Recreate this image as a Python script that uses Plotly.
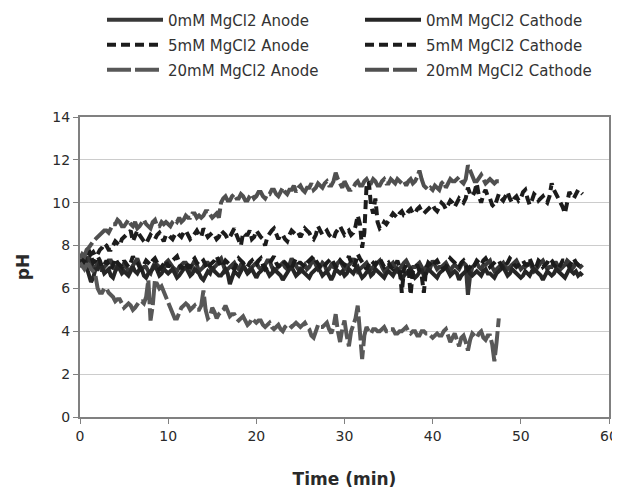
import plotly.graph_objects as go

# pH readings, one every quarter minute
SAMPLE_STEP_MIN = 0.25

ph_0mM_anode = [
    7.3, 7.1, 7.0, 7.2, 7.5, 7.2, 6.9, 7.0, 7.2, 7.1, 6.8, 7.0, 7.1, 7.3, 7.3, 7.0, 6.9, 7.1, 7.0, 6.8,
    7.2, 7.0, 6.8, 6.9, 7.1, 7.2, 7.4, 7.1, 6.9, 7.0, 7.0, 6.8, 6.7, 7.0, 7.2, 7.1, 7.0, 6.9, 6.9, 7.2,
    7.3, 7.1, 7.0, 6.9, 6.8, 7.0, 7.1, 7.2, 7.2, 7.0, 6.9, 7.1, 7.3, 7.1, 6.8, 6.9, 7.0, 7.2, 7.2, 7.0,
    6.9, 7.0, 7.1, 7.3, 7.4, 7.1, 6.8, 6.9, 7.0, 7.1, 7.2, 7.0, 6.9, 7.1, 7.1, 6.9, 6.7, 6.9, 7.0, 7.1,
    7.2, 7.0, 6.9, 7.0, 7.1, 7.3, 7.3, 7.0, 6.8, 6.9, 7.0, 7.1, 7.2, 7.0, 6.9, 7.1, 7.4, 7.2, 7.0, 6.9,
    6.8, 7.0, 7.1, 6.9, 7.0, 7.2, 7.3, 7.1, 6.9, 7.0, 7.2, 7.1, 6.8, 6.9, 7.1, 7.0, 7.0, 7.2, 7.3, 7.1,
    6.9, 7.0, 7.1, 7.2, 7.4, 7.1, 6.8, 6.9, 7.0, 7.1, 7.2, 7.0, 6.9, 7.0, 7.1, 7.2, 7.3, 7.0, 6.8, 6.9,
    7.0, 7.1, 7.2, 7.0, 6.8, 6.9, 7.1, 7.2, 7.3, 7.1, 6.9, 7.0, 7.0, 7.1, 7.2, 7.0, 6.8, 7.0, 7.1, 7.0,
    7.3, 7.1, 6.9, 7.0, 7.0, 7.1, 7.2, 7.0, 6.8, 7.0, 7.1, 7.0, 6.9, 7.1, 7.2, 7.1, 5.7, 6.6, 7.0, 7.1,
    7.2, 7.0, 6.9, 7.1, 7.1, 7.2, 7.3, 7.0, 6.8, 6.9, 7.0, 7.1, 7.2, 7.0, 6.9, 7.0, 7.1, 7.2, 7.3, 7.1,
    6.9, 7.0, 7.0, 7.1, 7.2, 7.0, 6.8, 6.9, 7.1, 7.2, 7.3, 7.1, 6.9, 7.0, 7.0, 7.2, 7.2, 7.0, 6.9, 7.0,
    7.1, 7.3, 7.2, 6.9, 7.0, 7.2, 7.1, 7.0, 7.1,
]

ph_0mM_cathode = [
    7.1, 7.4, 7.6, 7.0, 6.6, 6.3, 6.5, 6.9, 6.9, 7.2, 7.0, 6.7, 6.8, 6.9, 6.6, 6.5, 6.8, 7.0, 6.9, 6.7,
    6.8, 6.7, 6.6, 6.8, 7.0, 6.8, 6.7, 6.9, 6.9, 6.6, 6.5, 6.7, 6.8, 6.9, 7.1, 6.8, 6.6, 6.7, 6.9, 6.8,
    6.7, 6.8, 6.9, 6.7, 6.5, 6.6, 6.8, 6.9, 7.0, 6.8, 6.6, 6.7, 6.9, 6.8, 6.7, 6.5, 6.4, 6.6, 6.8, 6.7,
    7.0, 6.8, 6.7, 6.6, 6.6, 6.8, 6.9, 6.7, 6.2, 6.5, 6.8, 6.7, 6.6, 6.8, 7.0, 6.9, 6.7, 6.8, 6.9, 6.7,
    6.5, 6.7, 6.8, 6.9, 7.0, 6.8, 6.6, 6.7, 6.9, 6.8, 6.7, 6.6, 6.4, 6.6, 6.8, 6.9, 7.0, 6.8, 6.6, 6.7,
    6.9, 6.8, 6.7, 6.6, 6.5, 6.7, 6.8, 6.9, 7.0, 6.8, 6.6, 6.7, 6.8, 6.6, 6.4, 6.6, 6.9, 6.8, 6.7, 6.8,
    6.6, 6.7, 6.9, 6.8, 6.7, 6.9, 7.0, 6.7, 6.5, 6.6, 6.8, 6.9, 6.6, 6.7, 6.9, 6.8, 6.7, 6.6, 6.5, 6.7,
    6.8, 6.7, 6.6, 6.8, 6.9, 6.7, 6.4, 6.6, 6.7, 6.8, 6.9, 6.7, 6.5, 6.6, 6.8, 6.9, 6.6, 6.7, 6.9, 6.8,
    6.7, 6.6, 6.5, 6.7, 6.8, 6.9, 7.0, 6.8, 6.6, 6.7, 6.8, 6.7, 6.4, 6.6, 6.7, 6.8, 6.9, 6.7, 6.6, 6.7,
    6.8, 6.7, 6.6, 6.8, 6.9, 6.7, 6.7, 6.6, 6.5, 6.7, 6.8, 6.9, 7.0, 6.8, 6.6, 6.7, 6.9, 6.8, 6.7, 6.6,
    6.5, 6.6, 6.8, 6.7, 6.6, 6.8, 6.9, 6.8, 6.7, 6.6, 6.4, 6.6, 6.8, 6.7, 6.6, 6.7, 6.9, 6.8, 6.7, 6.6,
    6.5, 6.7, 6.9, 6.8, 6.7, 6.8, 6.6, 6.7, 6.6,
]

ph_5mM_anode = [
    7.0, 7.2, 7.4, 7.6, 7.8, 7.5, 7.2, 7.3, 7.5, 7.3, 7.0, 7.1, 7.3, 7.1, 6.9, 7.1, 7.4, 7.2, 7.1, 7.0,
    7.3, 7.1, 7.0, 7.2, 7.5, 7.3, 7.2, 7.0, 6.9, 7.1, 7.3, 7.2, 7.1, 7.3, 7.4, 7.2, 6.9, 7.0, 7.2, 7.3,
    7.0, 7.2, 7.3, 7.4, 7.5, 7.2, 6.9, 7.1, 7.2, 7.0, 7.0, 7.3, 7.4, 7.2, 7.1, 7.2, 7.3, 7.1, 6.9, 7.1,
    7.2, 7.3, 7.5, 7.2, 7.0, 7.1, 7.3, 7.2, 7.1, 7.0, 6.9, 7.2, 7.4, 7.3, 7.2, 7.0, 7.0, 7.2, 7.3, 7.1,
    7.1, 7.3, 7.4, 7.1, 6.9, 7.0, 7.2, 7.4, 7.5, 7.2, 7.0, 7.2, 7.3, 7.2, 7.1, 6.9, 6.9, 7.2, 7.4, 7.2,
    7.2, 7.1, 7.0, 7.2, 7.3, 7.4, 7.5, 7.3, 7.1, 7.0, 6.9, 7.1, 7.2, 7.3, 7.4, 7.2, 7.0, 7.1, 7.3, 7.2,
    7.1, 7.3, 7.5, 7.2, 7.0, 7.2, 7.6, 7.4, 7.2, 7.0, 6.9, 7.1, 7.3, 7.2, 7.1, 7.3, 7.4, 7.2, 7.0, 7.1,
    7.2, 7.0, 6.9, 7.1, 7.3, 7.0, 5.8, 6.9, 7.1, 7.0, 5.7, 6.8, 7.0, 7.1, 6.8, 6.6, 5.8, 6.9, 7.2, 7.1,
    7.0, 7.2, 7.3, 7.1, 7.1, 6.9, 7.0, 7.2, 7.4, 7.3, 7.2, 7.0, 7.0, 7.2, 7.3, 7.1, 6.9, 7.0, 7.2, 7.1,
    7.3, 7.2, 7.1, 7.3, 7.4, 7.2, 7.0, 7.1, 7.2, 7.3, 7.3, 7.1, 6.9, 7.1, 7.2, 7.4, 7.3, 7.1, 7.0, 7.1,
    7.2, 7.3, 7.1, 7.1, 7.4, 7.2, 6.9, 7.0, 7.3, 7.2, 7.0, 7.1, 7.2, 7.4, 7.3, 7.1, 7.0, 6.9, 7.1, 7.3,
    7.3, 7.1, 7.0, 7.2, 7.4, 7.2, 7.1, 7.0, 7.1,
]

ph_5mM_cathode = [
    7.0, 7.2, 7.3, 7.4, 7.5, 7.6, 7.7, 7.5, 7.6, 7.8, 7.9, 8.1, 8.0, 7.8, 7.8, 8.0, 8.2, 8.1, 8.0, 8.3,
    8.4, 8.5, 8.6, 8.7, 8.2, 8.4, 8.7, 8.5, 8.3, 8.2, 8.1, 8.3, 8.5, 8.4, 8.3, 8.5, 8.6, 8.4, 8.2, 8.5,
    8.5, 8.4, 8.3, 8.5, 8.6, 8.5, 8.4, 8.6, 8.7, 8.5, 8.3, 8.4, 8.6, 8.7, 8.5, 8.4, 8.8, 8.6, 8.4, 8.5,
    8.6, 8.5, 8.3, 8.4, 8.7, 8.6, 8.5, 8.3, 8.4, 8.6, 8.8, 8.5, 8.2, 8.0, 8.6, 8.5, 8.5, 8.7, 8.3, 8.4,
    8.7, 8.5, 8.4, 8.3, 8.0, 8.4, 8.6, 8.7, 8.8, 8.6, 8.3, 8.5, 8.5, 8.3, 8.2, 8.5, 8.7, 8.6, 8.5, 8.6,
    8.4, 8.6, 8.8, 8.7, 8.6, 8.4, 8.3, 8.5, 8.9, 8.7, 8.5, 8.6, 8.7, 8.5, 8.4, 8.3, 8.6, 8.8, 8.9, 8.7,
    8.5, 8.6, 8.7, 8.5, 8.6, 8.9, 9.4, 9.0, 7.9, 8.6, 10.8, 11.0, 9.9, 9.5, 10.2, 9.1, 8.8, 8.9, 9.1, 9.0,
    9.2, 9.3, 9.5, 9.4, 9.3, 9.5, 9.6, 9.4, 9.4, 9.6, 9.7, 9.5, 9.5, 9.7, 9.8, 9.6, 9.5, 9.6, 9.7, 9.8,
    9.9, 9.7, 9.6, 9.8, 10.0, 9.9, 9.7, 9.9, 10.1, 10.0, 9.8, 10.0, 10.2, 10.1, 10.0, 10.2, 10.7, 10.4, 10.3, 10.5,
    10.9, 10.3, 10.0, 10.4, 10.6, 10.3, 10.2, 9.9, 9.8, 10.1, 10.4, 10.2, 10.1, 10.3, 10.5, 10.2, 10.0, 10.2, 10.3, 10.1,
    10.2, 10.5, 10.6, 10.2, 9.9, 10.1, 10.4, 10.3, 10.1, 10.2, 10.3, 10.1, 10.0, 10.3, 10.9, 10.6, 10.4, 10.2, 10.1, 9.8,
    9.5, 10.0, 10.5, 10.3, 10.2, 10.4, 10.6, 10.5, 10.4,
]

ph_20mM_anode = [
    7.2, 7.0, 6.9, 7.1, 7.1, 6.9, 6.8, 6.6, 6.0, 5.8, 5.8, 6.0, 6.0, 5.8, 5.7, 5.6, 5.4, 5.5, 5.5, 5.3,
    5.1, 5.2, 5.3, 5.2, 5.0, 5.1, 5.3, 5.4, 5.4, 5.3, 5.6, 6.4, 4.5, 5.2, 6.4, 6.2, 6.0, 6.1, 5.85, 5.6,
    5.3, 5.1, 4.8, 4.6, 4.6, 4.9, 5.1, 5.2, 5.3, 5.2, 5.0, 5.1, 5.2, 5.0, 5.0, 5.2, 5.9, 5.0, 4.6, 4.7,
    5.1, 4.9, 4.6, 4.8, 4.9, 5.0, 5.2, 4.9, 4.7, 4.8, 4.8, 4.6, 4.5, 4.6, 4.7, 4.5, 4.3, 4.4, 4.6, 4.5,
    4.4, 4.5, 4.5, 4.3, 4.2, 4.3, 4.4, 4.2, 4.1, 4.2, 4.3, 4.1, 4.0, 4.2, 4.3, 4.3, 4.2, 4.3, 4.4, 4.3,
    4.2, 4.3, 4.4, 4.2, 4.1, 3.8, 3.7, 4.0, 4.3, 4.2, 4.2, 4.3, 4.4, 4.1, 3.9, 4.2, 4.8, 4.0, 3.5, 4.1,
    4.5, 3.8, 3.3, 4.0, 4.3, 4.6, 5.2, 3.9, 2.7, 3.8, 4.2, 4.0, 3.9, 4.1, 4.1, 4.0, 4.0, 4.1, 4.2, 4.0,
    4.0, 4.1, 4.1, 3.9, 3.9, 4.0, 4.0, 4.1, 4.2, 4.0, 3.9, 4.0, 4.0, 3.8, 3.8, 4.0, 4.0, 3.9, 3.9, 3.8,
    3.7, 3.8, 3.9, 3.8, 3.8, 4.0, 4.1, 3.8, 3.5, 3.7, 3.9, 3.6, 3.3, 3.7, 3.8, 3.5, 3.1, 3.6, 3.9, 3.8,
    3.7, 3.9, 4.0, 3.7, 3.6, 3.8, 3.8, 3.4, 2.6, 3.5, 4.6,
]

ph_20mM_cathode = [
    7.4, 7.6, 7.5, 7.8, 7.9, 8.1, 8.2, 8.3, 8.4, 8.5, 8.6, 8.7, 8.7, 8.6, 8.8, 9.0, 9.0, 9.2, 9.1, 8.9,
    8.9, 9.1, 9.2, 9.0, 8.9, 9.1, 8.8, 8.9, 9.1, 9.2, 9.0, 8.9, 8.8, 9.1, 9.2, 8.9, 8.9, 9.1, 9.0, 9.1,
    9.0, 8.9, 9.1, 9.2, 9.1, 9.3, 9.1, 9.2, 9.4, 9.3, 9.3, 9.5, 9.5, 9.3, 9.4, 9.3, 9.4, 9.6, 9.6, 9.4,
    9.3, 9.4, 9.5, 9.3, 10.0, 10.2, 10.3, 10.1, 10.1, 10.3, 10.4, 10.2, 10.2, 10.4, 10.3, 10.1, 10.1, 10.3, 10.4, 10.2,
    10.3, 10.5, 10.5, 10.3, 10.2, 10.4, 10.4, 10.6, 10.6, 10.4, 10.3, 10.5, 10.7, 10.5, 10.4, 10.6, 10.6, 10.8, 10.5, 10.7,
    10.8, 10.6, 10.5, 10.7, 10.7, 10.9, 10.6, 10.7, 10.9, 10.8, 10.7, 10.9, 11.0, 10.8, 10.8, 11.0, 11.4, 11.1, 10.9, 10.7,
    11.0, 10.8, 10.6, 10.6, 10.7, 10.9, 11.0, 10.8, 10.8, 11.0, 11.1, 10.9, 10.9, 11.1, 11.0, 10.8, 10.8, 11.0, 11.1, 10.9,
    10.9, 11.1, 11.0, 10.9, 11.1, 11.0, 10.9, 11.0, 10.8, 11.0, 11.1, 10.9, 11.0, 11.2, 11.5, 11.1, 10.8, 10.7, 10.6, 10.7,
    10.6, 10.8, 10.7, 10.6, 10.9, 11.0, 10.7, 10.9, 11.1, 11.0, 11.0, 11.1, 11.2, 11.0, 10.9, 11.1, 11.75, 11.5, 11.2, 11.0,
    11.0, 11.2, 11.3, 11.1, 10.9, 11.0, 11.1, 11.0, 10.9, 11.0, 11.0,
]

series = [
    ("0mM MgCl2 Anode", ph_0mM_anode, "#383838", "solid", "legend"),
    ("0mM MgCl2 Cathode", ph_0mM_cathode, "#262626", "solid", "legend"),
    ("5mM MgCl2 Anode", ph_5mM_anode, "#1c1c1c", "9px,5px", "legend2"),
    ("5mM MgCl2 Cathode", ph_5mM_cathode, "#1c1c1c", "9px,5px", "legend2"),
    ("20mM MgCl2 Anode", ph_20mM_anode, "#585858", "24px,4px", "legend3"),
    ("20mM MgCl2 Cathode", ph_20mM_cathode, "#505050", "24px,4px", "legend3"),
]

fig = go.Figure()
for name, values, color, dash, legend in series:
    times = [i * SAMPLE_STEP_MIN for i in range(len(values))]
    fig.add_trace(go.Scatter(
        x=times, y=values, mode="lines", name=name, legend=legend,
        line=dict(color=color, width=4, dash=dash),
    ))

# the page body adds an 8px offset, so the figure is drawn slightly smaller
W, H = 612, 484
font = "Verdana, DejaVu Sans, sans-serif"


def legend_row(y_px):
    # one legend per row so the row spacing can match the original
    return dict(
        orientation="h", x=94 / W, y=1 - y_px / H,
        xref="container", yref="container",
        xanchor="left", yanchor="middle",
        entrywidth=187, itemwidth=56,
        font=dict(size=15, color="#333333"),
        bgcolor="rgba(0,0,0,0)",
    )


fig.update_layout(
    width=W, height=H,
    margin=dict(l=72, r=11, t=109, b=75),
    plot_bgcolor="white", paper_bgcolor="white",
    font=dict(family=font, size=14, color="#2a2a2a"),
    legend=legend_row(12),
    legend2=legend_row(37),
    legend3=legend_row(62),
)
fig.update_xaxes(
    range=[0, 60], dtick=10, showgrid=False, automargin=False,
    showline=True, linecolor="#808080", linewidth=2, mirror=True,
    ticks="outside", ticklen=5, tickcolor="#808080",
    title=dict(text="<b>Time (min)</b>", standoff=30),
    zeroline=False,
)
fig.update_yaxes(
    range=[0, 14], dtick=2, showgrid=True, gridcolor="#cccccc",
    showline=True, linecolor="#808080", linewidth=2, mirror=True,
    ticks="outside", ticklen=5, tickcolor="#808080", automargin=False,
    title=dict(text="<b>pH</b>", standoff=18),
    zeroline=False,
)

fig.write_html("out.html")
